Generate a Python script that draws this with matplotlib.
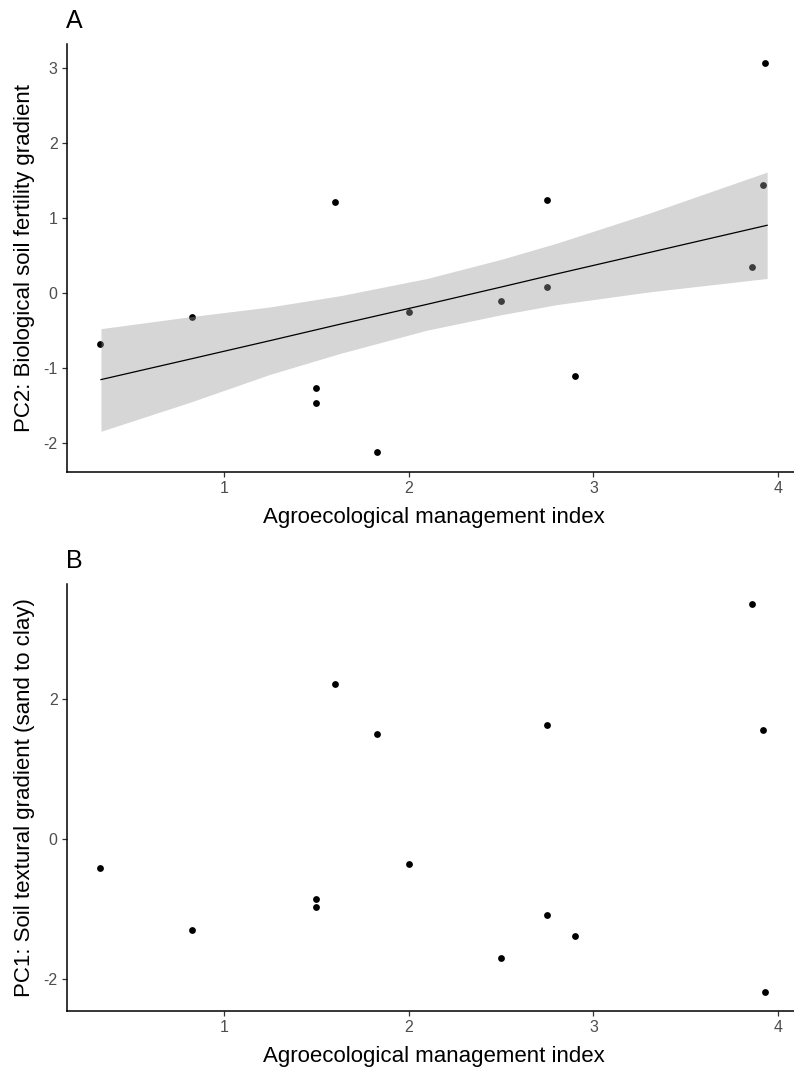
import numpy as np
import matplotlib
matplotlib.use("Agg")
import matplotlib.pyplot as plt

plt.rcParams['font.family'] = ['Liberation Sans', 'DejaVu Sans']
plt.rcParams['axes.unicode_minus'] = False

# Agroecological management index for each farm
ami = [0.33, 0.83, 1.50, 1.50, 1.60, 1.83, 2.00, 2.50, 2.75, 2.75, 2.90, 3.86, 3.92, 3.93]
# PC2: biological soil fertility gradient
pc2 = [-0.68, -0.32, -1.27, -1.47, 1.21, -2.13, -0.26, -0.11, 0.07, 1.24, -1.11, 0.34, 1.44, 3.06]
# PC1: soil textural gradient (sand to clay)
pc1 = [-0.41, -1.30, -0.85, -0.97, 2.22, 1.50, -0.35, -1.70, 1.64, -1.08, -1.39, 3.37, 1.56, -2.18]

# Fitted trend for PC2 and its 95% confidence band
fit_x = [0.335, 0.82, 1.25, 1.63, 2.10, 2.50, 2.80, 3.30, 3.94]
fit_y = [-1.16, -0.885, -0.64, -0.42, -0.155, 0.075, 0.25, 0.535, 0.90]
band_lo = [-1.85, -1.46, -1.09, -0.81, -0.50, -0.295, -0.16, 0.01, 0.19]
band_hi = [-0.48, -0.32, -0.19, -0.04, 0.19, 0.445, 0.66, 1.06, 1.61]

xticks = [1, 2, 3, 4]
yticks_a = [-2, -1, 0, 1, 2, 3]
yticks_b = [-2, 0, 2]

W, H = 794, 1069
fig = plt.figure(figsize=(W / 100, H / 100), dpi=100)


def px_axes(left, top, right, bottom):
    return fig.add_axes([left / W, 1 - bottom / H, (right - left) / W, (bottom - top) / H])


def style(ax, yticks, ylabel):
    for s in ('top', 'right'):
        ax.spines[s].set_visible(False)
    for s in ('left', 'bottom'):
        ax.spines[s].set_linewidth(1.1)
        ax.spines[s].set_color('black')
    ax.set_xticks(xticks)
    ax.set_yticks(yticks)
    ax.tick_params(axis='both', length=3.5, width=0.9, color='#333333',
                   labelcolor='#4d4d4d', labelsize=11.5, pad=3)
    ax.set_xlabel('Agroecological management index', fontsize=16, labelpad=8)
    ax.set_ylabel(ylabel, fontsize=16, labelpad=6)


def expanded(v, frac=0.05):
    lo, hi = min(v), max(v)
    r = hi - lo
    return lo - frac * r, hi + frac * r


# ---- Panel A: PC2 with fitted trend and confidence band ----
axA = px_axes(66.7, 44, 800.5, 471.7)
axA.scatter(ami, pc2, s=24, color='black', linewidths=0, zorder=2)
axA.fill_between(fit_x, band_lo, band_hi, color='#999999', alpha=0.4, linewidth=0, zorder=3)
axA.plot(fit_x, fit_y, color='black', lw=0.9, zorder=4)
axA.set_xlim(*expanded(ami + fit_x))
axA.set_ylim(*expanded(pc2 + band_lo + band_hi))
style(axA, yticks_a, 'PC2: Biological soil fertility gradient')

# ---- Panel B: PC1 scatter ----
axB = px_axes(66.7, 584.3, 800.5, 1011)
axB.scatter(ami, pc1, s=24, color='black', linewidths=0, zorder=2)
axB.set_xlim(*expanded(ami + fit_x))
axB.set_ylim(*expanded(pc1))
style(axB, yticks_b, 'PC1: Soil textural gradient (sand to clay)')

fig.text(66 / W, 1 - 28 / H, 'A', fontsize=18, ha='left', va='baseline')
fig.text(66 / W, 1 - 568 / H, 'B', fontsize=18, ha='left', va='baseline')

fig.savefig('out.png', dpi=100, facecolor='white')
